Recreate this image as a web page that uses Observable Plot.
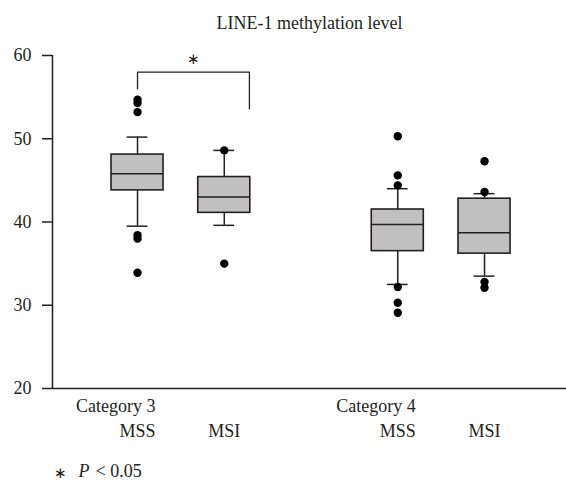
<!DOCTYPE html>
<html>
<head>
<meta charset="utf-8">
<script src="https://cdn.jsdelivr.net/npm/d3@7"></script>
<script src="https://cdn.jsdelivr.net/npm/@observablehq/plot@0.6"></script>
<style>
  html, body { margin: 0; padding: 0; background: white; }
</style>
</head>
<body>
<div id="chart"></div>
<script>
// ---- data ----
const title = "LINE-1 methylation level";
const categories = ["Category 3", "Category 4"];
const categoryPos = [1, 4];            // slot of the first box of each category
const groups = ["MSS", "MSI", "MSS", "MSI"];
const groupPos = [1, 2, 4, 5];         // slots (slot 3 is the gap)
const q1 = [43.8, 41.1, 36.5, 36.2];
const median = [45.8, 43.0, 39.7, 38.7];
const q3 = [48.1, 45.4, 41.5, 42.8];
const whiskerLow = [39.5, 39.6, 32.5, 33.5];
const whiskerHigh = [50.2, 48.6, 44.0, 43.4];
const outlierGroup = [0, 0, 0, 0, 0, 0, 1, 1, 2, 2, 2, 2, 2, 2, 3, 3, 3, 3];
const outlierValue = [54.7, 54.3, 53.2, 38.4, 38.0, 33.9, 48.6, 35.0, 50.3, 45.6, 44.4, 32.2, 30.3, 29.1, 47.3, 43.6, 32.8, 32.1];
const yTicks = [20, 30, 40, 50, 60];
const bracketX = [1, 1, 2.29, 2.29];
const bracketY = [56.0, 58.0, 58.0, 53.6];
const sigMark = "∗";
const footnoteP = "P";
const footnoteRest = "< 0.05";

// ---- build tables ----
const boxes = groups.map((g, i) => ({
  group: g, pos: groupPos[i], q1: q1[i], med: median[i], q3: q3[i],
  lo: whiskerLow[i], hi: whiskerHigh[i]
}));
const outliers = outlierValue.map((v, i) => ({ pos: groupPos[outlierGroup[i]], value: v }));
const bracket = bracketX.map((x, i) => ({ x, y: bracketY[i] }));
const cats = categories.map((c, i) => ({ label: c, pos: categoryPos[i] - 0.25 }));

const xDomain = [0.02, 5.945];
const ink = "#231f20";
const serif = "Liberation Serif";
const halfBox = 0.3, halfCap = 0.12;

const chart = Plot.plot({
  width: 566,
  height: 488,
  marginLeft: 52,
  marginRight: 0,
  marginTop: 55,
  marginBottom: 100,
  style: { fontFamily: serif, fontSize: "18px", color: ink, background: "white" },
  x: { domain: xDomain, axis: null },
  y: { domain: [20, 60], axis: null },
  marks: [
    Plot.axisY({ ticks: yTicks, tickSize: 10, tickPadding: 11, label: null, fontSize: 18, fontFamily: serif, stroke: ink, strokeWidth: 1.5 }),
    Plot.ruleX([xDomain[0]], { y1: yTicks[0], y2: yTicks[yTicks.length - 1], stroke: ink, strokeWidth: 1.5 }),
    Plot.ruleY([yTicks[0]], { stroke: ink, strokeWidth: 1.5 }),
    // whiskers
    Plot.ruleX(boxes, { x: "pos", y1: "q3", y2: "hi", stroke: ink, strokeWidth: 1.5 }),
    Plot.ruleX(boxes, { x: "pos", y1: "lo", y2: "q1", stroke: ink, strokeWidth: 1.5 }),
    Plot.ruleY(boxes, { y: "hi", x1: d => d.pos - halfCap, x2: d => d.pos + halfCap, stroke: ink, strokeWidth: 1.5 }),
    Plot.ruleY(boxes, { y: "lo", x1: d => d.pos - halfCap, x2: d => d.pos + halfCap, stroke: ink, strokeWidth: 1.5 }),
    // boxes
    Plot.rect(boxes, { x1: d => d.pos - halfBox, x2: d => d.pos + halfBox, y1: "q1", y2: "q3", fill: "#c0c0c0", stroke: ink, strokeWidth: 1.6 }),
    Plot.ruleY(boxes, { y: "med", x1: d => d.pos - halfBox, x2: d => d.pos + halfBox, stroke: ink, strokeWidth: 1.6 }),
    // outliers
    Plot.dot(outliers, { x: "pos", y: "value", r: 4.2, fill: "black", stroke: null }),
    // significance bracket
    Plot.line(bracket, { x: "x", y: "y", stroke: ink, strokeWidth: 1.3 }),
    Plot.text([sigMark], { x: (bracketX[0] + bracketX[2]) / 2, y: 59.6, text: d => d, fontSize: 15, fill: ink }),
    // title
    Plot.text([title], { frameAnchor: "top", dy: -39, text: d => d, fontSize: 18, fontFamily: serif, fill: ink }),
    // x labels
    Plot.text(cats, { x: "pos", text: "label", frameAnchor: "bottom", dy: 23, fontSize: 18, fontFamily: serif, fill: ink }),
    Plot.text(boxes, { x: "pos", text: "group", frameAnchor: "bottom", dy: 48, fontSize: 18, fontFamily: serif, fill: ink }),
    // footnote
    Plot.text([sigMark], { frameAnchor: "bottom-left", dx: 1, dy: 89, textAnchor: "start", text: d => d, fontSize: 15, fill: ink }),
    Plot.text([footnoteP], { frameAnchor: "bottom-left", dx: 26, dy: 88, textAnchor: "start", text: d => d, fontSize: 18, fontStyle: "italic", fontFamily: serif, fill: ink }),
    Plot.text([footnoteRest], { frameAnchor: "bottom-left", dx: 43, dy: 88, textAnchor: "start", text: d => d, fontSize: 18, fontFamily: serif, fill: ink })
  ]
});
document.getElementById("chart").appendChild(chart);
</script>
</body>
</html>
